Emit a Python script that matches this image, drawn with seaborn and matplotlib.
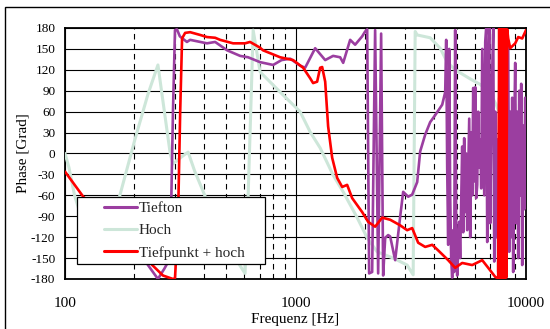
import numpy as np
import pandas as pd
import matplotlib
matplotlib.use("Agg")
import matplotlib.pyplot as plt
import seaborn as sns
from matplotlib.ticker import NullFormatter, LogLocator
from matplotlib.patches import Rectangle

# Tiefton (purple)
tief_f = [118, 160, 200, 229, 253, 270, 286, 294, 300, 306,
          315, 338, 349, 413, 448, 505, 575, 623, 702, 800,
          870, 948, 1047, 1101, 1217, 1345, 1456, 1562, 1610, 1726,
          1814, 1946, 2005, 2046, 2086, 2150, 2215, 2283, 2352, 2400,
          2449, 2523, 2574, 2706, 2844, 2931, 3081, 3207, 3372, 3474,
          3652, 3839, 4036, 4329,
          4461, 4505, 4550, 4596, 4642, 4688, 4735, 4783, 4831, 4879,
          4928, 4977, 5027, 5078, 5129, 5180, 5233, 5286, 5339, 5392,
          5447, 5501, 5557, 5613, 5670, 5727, 5784, 5842, 5901, 5960,
          6020, 6081, 6142, 6204, 6267, 6330, 6393, 6457, 6522, 6588,
          6654, 6721, 6788, 6856, 6925, 6995, 7065, 7137, 7209, 7281,
          7354, 7428, 7503, 7577, 7653, 7727, 7805, 7883, 7962, 8042,
          8122, 8204, 8286, 8369, 8453, 8538, 8624, 8711, 8798, 8887,
          8976, 9068, 9159, 9251, 9344, 9437, 9532, 9628, 9725, 9822,
          9920, 10000]
tief_p = [-110, -120, -130, -160, -180, -165, -150, 60, 177, 178,
          168, 160, 163, 158, 160, 148, 140, 138, 131, 127,
          134, 136, 126, 123, 151, 134, 140, 138, 130, 163,
          156, 168, 175, 178, -172, -170, 177, -172, 172, -175,
          -121, -117, -119, -153, -91, -55, -62, -59, -41, 3,
          27, 45, 55, 70,
          88, 163, -20, -131, 150, -60, -150, -178, -110, -170,
          177, -100, -175, -140, -98, -150, -70, 10, -113, 22,
          -84, 0, -110, -30, 50, -120, 30, -60, 94, -40,
          95, -64, -45, 60, -20, 20, -50, 150, 40, -60,
          160, 180, -127, 100, 180, -100, 30, 120, 180, -155,
          60, -120, 20, -170, 80, -60, 40, -140, 175, -170,
          160, -100, 170, 158, -141, 60, -120, 80, -170, 30,
          130, -100, 60, -150, 90, -60, 100, -160, 40, -80,
          80, -40]

# Hoch (light green)
hoch_f = [100, 104, 110, 125, 138, 155, 173, 201, 229, 253,
          266, 286, 294, 320, 342, 365, 405, 500, 604, 623,
          642, 655, 702, 858, 1047, 1157, 1279, 1456, 1610, 1851,
          2046, 2260, 2652, 3050, 3239, 3305, 3372, 3839, 4243, 4550,
          4928, 5727, 6330, 6995, 7427, 7727, 8200, 8538, 8700, 8900,
          9250, 9450, 9800, 10000]
hoch_p = [0, -20, -60, -120, -140, -110, -60, 20, 85, 127,
          75, 0, -15, -5, 2, -25, -61, -130, -172, -60,
          80, 177, 117, 88, 60, 31, 8, -31, -55, -92,
          -121, -141, -150, -160, -174, 175, 170, 166, 151, 131,
          120, 107, 99, 86, 70, 55, 40, 27, 38, 14,
          24, 6, 20, 14]

# Tiefpunkt + hoch (red)
red_f = [100, 120, 160, 200, 239, 266, 294, 300, 309, 316,
         322, 332, 349, 386, 413, 448, 471, 536, 604, 635,
         700, 723, 858, 976, 1079, 1157, 1192, 1241, 1279, 1305,
         1345, 1385, 1442, 1516, 1594, 1675, 1761, 1851, 1946, 2066,
         2215, 2376, 2574, 2844, 3050, 3207, 3405, 3652, 3918, 4159,
         4596, 4928, 5286, 5842, 6457, 6856, 7354, 7573, 7649, 7727,
         7805, 7883, 7962, 8042, 8122, 8204, 8286, 8369, 8538, 8976,
         9251, 9628, 10000]
red_p = [-26, -62, -100, -130, -160, -175, -180, -179, -100, 60,
         165, 173, 174, 170, 167, 166, 163, 158, 158, 160,
         152, 148, 138, 134, 123, 108, 101, 103, 123, 124,
         103, 39, -6, -35, -48, -45, -64, -74, -84, -98,
         -105, -92, -95, -103, -110, -107, -128, -134, -131, -139,
         -153, -164, -157, -160, -153, -164, -177, -179, 180, -180,
         180, -180, 178, -180, 180, -178, 178, 165, 151, 158,
         167, 165, 177]

series_names = ["Tiefton", "Hoch", "Tiefpunkt + hoch"]
colors = {"Tiefton": "#9b3ea0", "Hoch": "#cde6d9", "Tiefpunkt + hoch": "#ff0000"}

y_ticks = [-180, -150, -120, -90, -60, -30, 0, 30, 60, 90, 120, 150, 180]
x_ticks = [100, 1000, 10000]
x_labels = ["100", "1000", "10000"]

sns.set_theme(style="white")
plt.rcParams["font.family"] = ["Liberation Serif", "DejaVu Serif"]

fig = plt.figure(figsize=(5.5, 3.29), dpi=100)
ax = fig.add_axes([0.1182, 0.152, 0.8382, 0.7629])

data = {
    "Tiefton": pd.DataFrame({"f": tief_f, "p": tief_p}),
    "Hoch": pd.DataFrame({"f": hoch_f, "p": hoch_p}),
    "Tiefpunkt + hoch": pd.DataFrame({"f": red_f, "p": red_p}),
}
zorders = {"Hoch": 3, "Tiefton": 4, "Tiefpunkt + hoch": 5}
widths = {"Hoch": 2.2, "Tiefton": 1.9, "Tiefpunkt + hoch": 1.9}
for name in series_names:
    sns.lineplot(data=data[name], x="f", y="p", ax=ax, color=colors[name],
                 linewidth=widths[name], sort=False, estimator=None,
                 label=name, zorder=zorders[name])

ax.set_xscale("log")
ax.set_xlim(100, 10000)
ax.set_ylim(-180, 180)
ax.set_xticks(x_ticks)
ax.set_xticklabels(x_labels, fontsize=11)
ax.xaxis.set_minor_locator(LogLocator(base=10, subs=np.arange(2, 10)))
ax.xaxis.set_minor_formatter(NullFormatter())
ax.set_yticks(y_ticks)
ax.set_yticklabels([str(v) for v in y_ticks], fontsize=9.5)
ax.tick_params(axis="x", which="both", length=0, pad=13, colors="black")
ax.tick_params(axis="y", which="both", length=0, pad=7, colors="black")

ax.grid(which="major", axis="y", color="black", linewidth=0.8)
ax.grid(which="major", axis="x", color="black", linewidth=0.8)
ax.grid(which="minor", axis="x", color="black", linewidth=0.8, linestyle=(0, (5, 4)))
ax.set_axisbelow(True)

for s in ax.spines.values():
    s.set_color("black")
    s.set_linewidth(1.3)

ax.set_xlabel("Frequenz [Hz]", fontsize=11, labelpad=2, color="black")
ax.set_ylabel("Phase [Grad]", fontsize=11, labelpad=1, color="black")

leg = ax.legend(loc="upper left", bbox_to_anchor=(0.026, 0.0637, 0.408, 0.263),
                mode="expand", borderaxespad=0, fontsize=11, frameon=True,
                fancybox=False, framealpha=1, edgecolor="black",
                handlelength=3.6, handletextpad=0.15, labelspacing=0.55,
                borderpad=0.3)
leg.get_frame().set_linewidth(0.9)
leg.set_zorder(10)
for line in leg.get_lines():
    xd = np.asarray(line.get_xdata(), dtype=float)
    x0, x1 = xd[0], xd[-1]
    line.set_xdata(np.linspace(x0 + 0.4 * (x1 - x0), x1, len(xd)))
    line.set_linewidth(2.2)

# outer chart border (left and top visible in the reference)
fig.patches.append(Rectangle((5 / 550, -0.1), 1.2, 1 - 7 / 329 + 0.1,
                             transform=fig.transFigure, fill=False,
                             edgecolor="black", linewidth=1.0))

fig.savefig("out.png", dpi=100)
